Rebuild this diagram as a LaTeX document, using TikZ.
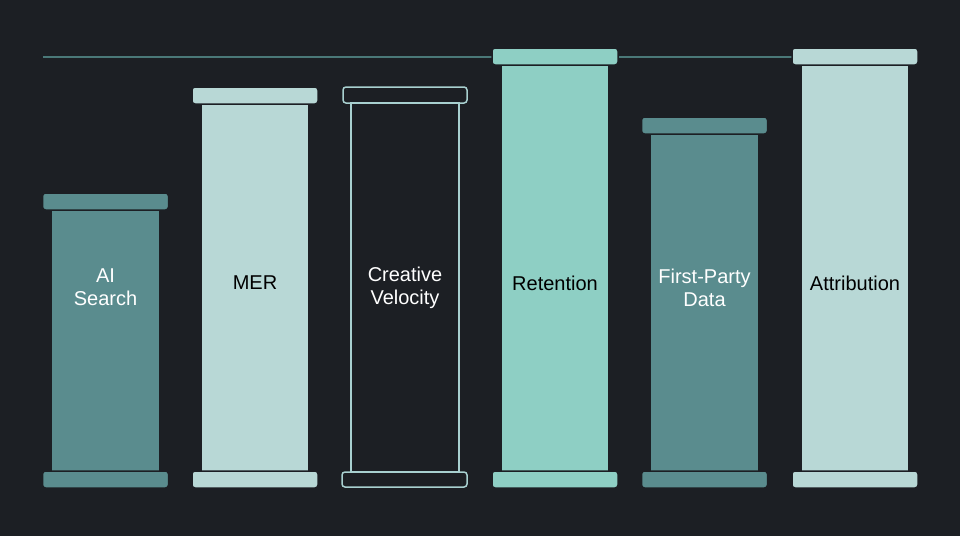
\documentclass[tikz,border=0pt]{standalone}
\usepackage{fontspec}
\setmainfont{Liberation Sans}
\definecolor{bg}{HTML}{1C1F24}
\definecolor{dk}{HTML}{5A8C8E}
\definecolor{lt}{HTML}{B8D8D6}
\definecolor{md}{HTML}{8ECFC4}
\definecolor{ln}{HTML}{4A7878}
\definecolor{ol}{HTML}{A8D0D0}
\begin{document}
\begin{tikzpicture}[x=1pt,y=-1pt,
  capbox/.style={rounded corners=3pt,line width=1.5pt},
  lbl/.style={font=\fontsize{20}{23}\selectfont,align=center}]
\fill[bg] (0,0) rectangle (960,536);
\useasboundingbox (0,0) rectangle (960,536);
\draw[ln,line width=1.2pt] (43,57) -- (795,57);
\foreach \cx/\top/\fc/\ec in {105.5/193/dk/bg, 255/87/lt/bg, 555/48/md/bg, 704.5/117/dk/bg, 855/48/lt/bg}{
  \fill[\fc,draw=\ec,line width=1.5pt] (\cx-54,\top+16) rectangle (\cx+54,472);
  \fill[\fc,draw=\ec,capbox] (\cx-63,\top) rectangle (\cx+63,\top+17);
  \fill[\fc,draw=\ec,capbox] (\cx-63,471) rectangle (\cx+63,488);
}
\draw[ol,line width=1.5pt] (351,103) rectangle (459,472);
\draw[ol,capbox] (343,87) rectangle (467,103);
\draw[ol,capbox] (342,472) rectangle (467,487);
\node[lbl,white] (a) at (105.5,287) {AI\\Search};
\node[lbl,black] (b) at (255,283) {MER};
\node[lbl,white] (c) at (405,288) {Creative\\Velocity};
\node[lbl,black] (d) at (555,283) {Retention};
\node[lbl,white] (e) at (704.5,288) {First-Party\\Data};
\node[lbl,black] (f) at (855,283) {Attribution};
\end{tikzpicture}
\end{document}
